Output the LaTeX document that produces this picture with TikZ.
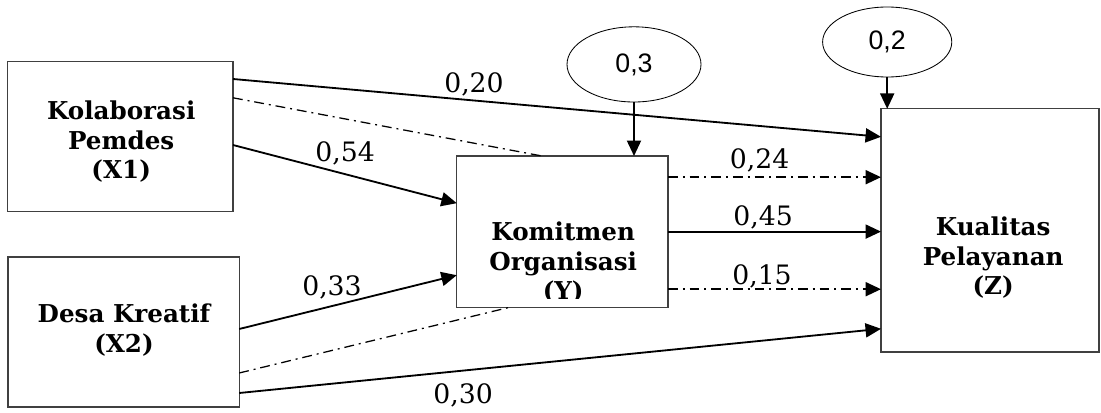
\documentclass[tikz,border=0pt]{standalone}
\usepackage{fontspec}
\setmainfont{DejaVu Serif}
\newfontfamily\ellfont{Liberation Sans}
\usetikzlibrary{arrows.meta,calc,shapes.geometric}

\begin{document}
\begin{tikzpicture}[
  varbox/.style={draw=black!75,line width=0.9pt,inner sep=0pt,outer sep=0pt},
  vartext/.style={align=center,inner sep=0pt,font=\fontsize{17.5}{21}\selectfont\bfseries},
  err/.style={ellipse,draw,line width=0.6pt,inner sep=0pt,font=\ellfont\fontsize{19}{20}\selectfont},
  coef/.style={anchor=base,inner sep=0pt,font=\fontsize{19}{20}\selectfont},
  effect/.style={line width=1.3pt,-{Triangle[length=11pt,width=10pt]}},
  dashdot/.style={dash pattern=on 7pt off 3.5pt on 1.4pt off 3.5pt},
]
\useasboundingbox (0,0) rectangle (27.525,10.3);

% variables
\node[varbox,minimum width=5.63cm,minimum height=3.75cm] (x1) at (3.01,6.88) {};
\node[varbox,minimum width=5.78cm,minimum height=3.75cm] (x2) at (3.09,2.0) {};
\node[varbox,minimum width=5.28cm,minimum height=3.78cm] (y) at (14.06,4.51) {};
\node[varbox,minimum width=5.45cm,minimum height=6.08cm] (z) at (24.75,4.54) {};

\node[vartext] (x1t) at (3.03,6.75) {Kolaborasi\\Pemdes\\(X1)};
\node[vartext] (x2t) at (3.1,2.05) {Desa Kreatif\\(X2)};
\begin{scope}
  \clip (y.north west) rectangle ($(y.south east)+(0,0.22)$);
  \node[vartext] (yt) at (14.08,3.73) {Komitmen\\Organisasi\\(Y)};
\end{scope}
\node[vartext] (zt) at (24.83,3.86) {Kualitas\\Pelayanan\\(Z)};

% residuals
\node[err,minimum width=3.35cm,minimum height=1.88cm] (e1) at (15.85,8.69) {0,3};
\node[err,minimum width=3.23cm,minimum height=1.75cm] (e2) at (22.18,9.25) {0,2};
\draw[effect] (e1.south) -- (e1.south |- y.north);
\draw[effect] (e2.south) -- (e2.south |- z.north);

% direct paths
\draw[effect] ($(x1.north east)+(0,-0.43)$) -- ($(z.north west)+(0,-0.7)$);
\draw[effect] ($(x1.north east)+(0,-2.08)$) -- ($(y.north west)+(0,-1.18)$);
\draw[effect] ($(x2.north east)+(0,-1.8)$) -- ($(y.north west)+(0,-2.98)$);
\draw[effect] ($(x2.north east)+(0,-3.4)$) -- ($(z.north west)+(0,-5.5)$);
\draw[effect] (y.east) -- (y.east -| z.west);

% paths through Y
\draw[line width=0.9pt,dashdot] ($(x1.north east)+(0,-0.9)$) -- ($(y.north west)+(2.13,0)$);
\draw[line width=0.9pt,dashdot] ($(x2.north east)+(0,-2.9)$) -- ($(y.south west)+(1.33,0)$);
\draw[effect,dashdot] ($(y.north east)+(0,-0.53)$) coordinate (y1) -- (y1 -| z.west);
\draw[effect,dashdot] ($(y.north east)+(0,-3.33)$) coordinate (y2) -- (y2 -| z.west);

% coefficients
\node[coef] (c20) at (11.85,7.98) {0,20};
\node[coef] (c54) at (8.63,6.25) {0,54};
\node[coef] (c33) at (8.3,2.9) {0,33};
\node[coef] (c30) at (11.58,0.22) {0,30};
\node[coef] (c24) at (18.99,6.08) {0,24};
\node[coef] (c45) at (19.08,4.65) {0,45};
\node[coef] (c15) at (19.05,3.18) {0,15};
\end{tikzpicture}
\end{document}
